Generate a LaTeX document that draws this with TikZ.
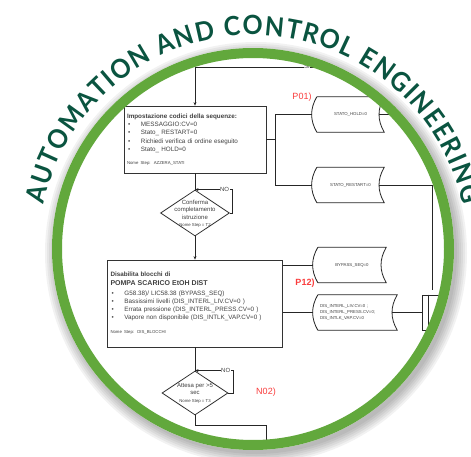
\documentclass[tikz,border=0pt]{standalone}
\usepackage{fontspec}
\setmainfont{Liberation Sans}
\newfontfamily\ringfont[FakeStretch=0.94]{Lato}
\usetikzlibrary{shapes.geometric,decorations.text,arrows.meta}

\definecolor{ringgreen}{RGB}{98,168,60}
\definecolor{titlegreen}{RGB}{10,84,64}
\definecolor{labelred}{RGB}{250,60,60}

% bullet line inside a step box
\newcommand{\itm}[1]{\hspace*{1pt}\makebox[13pt][l]{\textbullet}#1}
% outline of a stored data symbol
\newcommand{\storedout}[1]{\draw[flow] (#1.north west) -- (#1.north east) to[bend right=30] (#1.south east) -- (#1.south west) to[bend left=30] (#1.north west);}

\begin{document}
\begin{tikzpicture}[x=1pt, y=1pt,
    stepbox/.style={rectangle, draw=black!80, line width=0.8pt, inner sep=3pt, align=left, font=\fontsize{6.3}{8.3}\selectfont, text=black!75},
    decision/.style={diamond, draw=black!80, line width=0.8pt, inner sep=0pt},
    dtext/.style={align=center, font=\fontsize{6}{7.5}\selectfont, text=black!75, inner sep=0pt},
    stored/.style={minimum height=35pt, inner sep=2pt, font=\fontsize{4.3}{6}\selectfont, text=black!75},
    flow/.style={draw=black!85, line width=0.8pt},
    arrow/.style={flow, -{Stealth[length=3.5pt, width=3pt]}},
    nolabel/.style={fill=white, inner sep=0.5pt, font=\fontsize{6}{7}\selectfont, text=black!75},
    plabel/.style={text=labelred, font=\fontsize{9}{10}\selectfont}
]
\useasboundingbox (0,-457) rectangle (471,0);

% Shadow and disc
\foreach \r in {201,203,...,211}
  \fill[black, opacity=0.05] (256,-253) circle (\r pt);
\fill[white] (253,-249) circle (201pt);

\begin{scope}
\clip (253,-249) circle (195pt);

% Steps
\node[stepbox, minimum width=142pt, minimum height=67pt, text width=136pt] (azzera) at (195,-139.5)
  {\textbf{Impostazione codici della sequenze:}\\
   \itm{MESSAGGIO:CV=0}\\
   \itm{Stato\_ RESTART=0}\\
   \itm{Richiedi verifica di ordine eseguito}\\
   \itm{Stato\_ HOLD=0}\\[4.5pt]
   {\fontsize{4.3}{5}\selectfont Nome Step: AZZERA\_STATI}};
\node[stepbox, minimum width=175pt, minimum height=87pt, text width=169pt] (blocchi) at (195,-303.5)
  {\textbf{Disabilita blocchi di}\\
   {\fontsize{7}{8.3}\selectfont\textbf{POMPA SCARICO EtOH DIST}}\\[1.5pt]
   \itm{G58.38)/ LIC58.38 (BYPASS\_SEQ)}\\
   \itm{Bassissimi livelli (DIS\_INTERL\_LIV.CV=0 )}\\
   \itm{Errata pressione (DIS\_INTERL\_PRESS.CV=0 )}\\
   \itm{Vapore non disponibile (DIS\_INTLK\_VAP.CV=0 )}\\[5.5pt]
   {\fontsize{4.3}{5}\selectfont Nome Step: DIS\_BLOCCHI}};

% Decisions
\node[decision, minimum width=69pt, minimum height=46pt] (conferma) at (195,-213) {};
\node[dtext] (confermatxt) at (195,-214) {Conferma\\completamento\\istruzione\\{\fontsize{4.3}{5}\selectfont Nome Step = T2}};
\node[decision, minimum width=66pt, minimum height=44pt] (attesa) at (195,-393) {};
\node[dtext] (attesatxt) at (195,-393) {Attesa per >5\\sec\\{\fontsize{4.3}{5}\selectfont Nome Step = T3}};

% Stored data
\node[stored, minimum width=67pt] (hold) at (350.5,-114.5) {STATO\_HOLD=0};
\storedout{hold}
\node[stored, minimum width=67pt] (restart) at (350.5,-185) {STATO\_RESTART=0};
\storedout{restart}
\node[stored, minimum width=68pt] (bypass) at (352,-265) {BYPASS\_SEQ=0};
\storedout{bypass}
\node[stored, minimum width=79pt, text width=75pt, align=left] (dis) at (357.5,-312.5)
  {DIS\_INTERL\_LIV.CV=0 ;\\DIS\_INTERL\_PRESS.CV=0;\\DIS\_INTLK\_VAP.CV=0};
\storedout{dis}
\node[flow, rectangle, minimum width=60pt, minimum height=35pt, anchor=west] (sub) at (422,-312.5) {};

% Connectors
\coordinate (si) at (340,-67);
\coordinate (holdout) at (440,-114.5);
\coordinate (restartout) at (432,-290);
\coordinate (next) at (266,-470);
\draw[arrow] (si) -| (azzera.north);
\node[nolabel] (silabel) at (307,-66) {SI};
\draw[flow] (azzera.east) -- ++(9,0) coordinate (split1);
\draw[flow] ([xshift=-5pt]hold.west) -| (split1) |- ([xshift=-5pt]restart.west);
\draw[flow] ([xshift=-5pt]hold.east) -- (holdout);
\draw[flow] ([xshift=-5pt]restart.east) -| (restartout);
\draw[flow] (azzera.south) -- (conferma.north);
\draw[arrow] (conferma.east) -- ++(2,0) |- (conferma.north) node[nolabel, pos=0.6] (no1) {NO};
\draw[arrow] (conferma.south) -- (blocchi.north);
\draw[flow] (blocchi.east |- bypass.west) -- ([xshift=-5pt]bypass.west);
\draw[flow] (blocchi.east |- dis.west) -- ([xshift=-5pt]dis.west);
\draw[flow] ([xshift=-5pt]dis.east) -- (sub.west);
\draw[flow] ([xshift=6pt]sub.north west) -- ([xshift=6pt]sub.south west);
\draw[flow] (blocchi.south) -- (attesa.north);
\draw[arrow] (attesa.east) -- ++(5,0) |- (attesa.north) node[nolabel, pos=0.6] (no2) {NO};
\draw[flow] (attesa.south) -- ++(0,-10) -| (next);

% Phase labels
\node[plabel] (p01) at (302,-97) {P01)};
\node[plabel, font=\fontsize{9}{10}\selectfont\bfseries] (p12) at (305,-283) {P12)};
\node[plabel] (n02) at (266,-392) {N02)};
\end{scope}

% Ring
\draw[ringgreen, line width=10pt] (253,-249) circle (196pt);

% Title
\path[decorate, decoration={text along path, text align=fit to path,
    text={|\ringfont\bfseries\fontsize{26.5}{26.5}\selectfont\color{titlegreen}|AUTOMATION AND CONTROL ENGINEERING}}]
  (253,-249) ++(168:214pt) arc[start angle=168, end angle=12, radius=214pt];
\end{tikzpicture}
\end{document}
